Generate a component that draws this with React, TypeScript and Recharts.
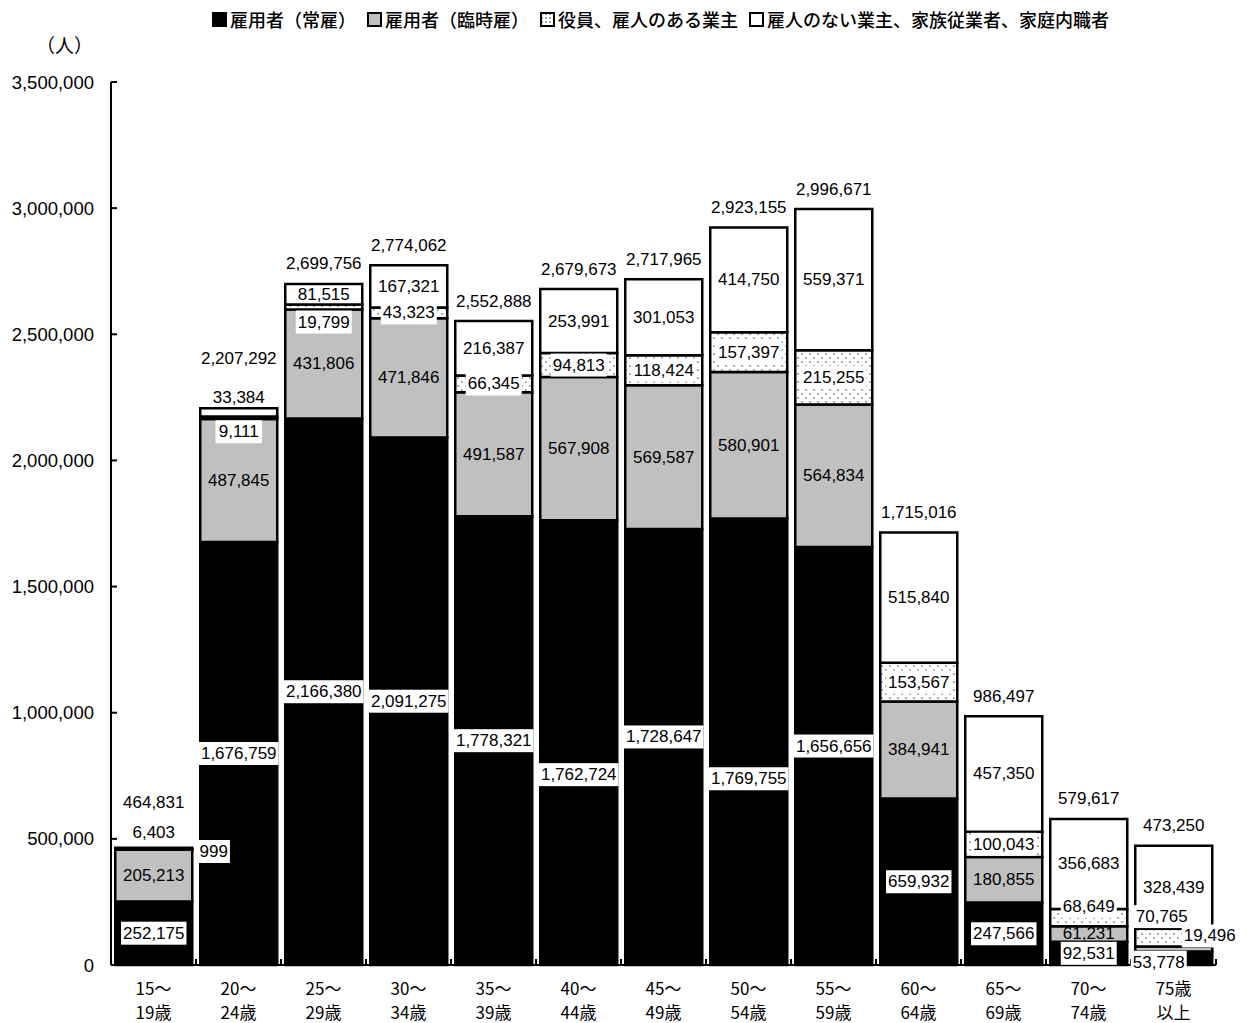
import { BarChart, Bar, XAxis, YAxis, LabelList } from 'recharts'

// 年齢階級別 従業上の地位別 就業者数
const ageGroups = [
  '15～\n19歳', '20～\n24歳', '25～\n29歳', '30～\n34歳', '35～\n39歳',
  '40～\n44歳', '45～\n49歳', '50～\n54歳', '55～\n59歳', '60～\n64歳',
  '65～\n69歳', '70～\n74歳', '75歳\n以上',
]
const regularEmployees = [
  252175, 1676759, 2166380, 2091275, 1778321, 1762724, 1728647,
  1769755, 1656656, 659932, 247566, 92531, 53778,
]
const temporaryEmployees = [
  205213, 487845, 431806, 471846, 491587, 567908, 569587,
  580901, 564834, 384941, 180855, 61231, 19496,
]
const executivesAndEmployers = [
  999, 9111, 19799, 43323, 66345, 94813, 118424,
  157397, 215255, 153567, 100043, 68649, 70765,
]
const ownAccountAndFamily = [
  6403, 33384, 81515, 167321, 216387, 253991, 301053,
  414750, 559371, 515840, 457350, 356683, 328439,
]
const totals = [
  464831, 2207292, 2699756, 2774062, 2552888, 2679673, 2717965,
  2923155, 2996671, 1715016, 986497, 579617, 473250,
]
const yTicks = [0, 500000, 1000000, 1500000, 2000000, 2500000, 3000000, 3500000]

const legendItems = [
  { label: '雇用者（常雇）', key: 'regular' },
  { label: '雇用者（臨時雇）', key: 'temporary' },
  { label: '役員、雇人のある業主', key: 'executives' },
  { label: '雇人のない業主、家族従業者、家庭内職者', key: 'ownAccount' },
]

const data = ageGroups.map((age, i) => ({
  age,
  regular: regularEmployees[i],
  temporary: temporaryEmployees[i],
  executives: executivesAndEmployers[i],
  ownAccount: ownAccountAndFamily[i],
  total: totals[i],
}))

const W = 1247
const H = 1023
const MARGIN = { top: 82, right: 31, bottom: 0, left: 0 }
const Y_AXIS_W = 111
const PLOT_W = W - MARGIN.left - MARGIN.right - Y_AXIS_W
const BAND = PLOT_W / ageGroups.length

const NUM_FONT = "'Liberation Sans', 'Noto Sans CJK JP', sans-serif"
const JP_FONT = "'Noto Sans CJK JP', sans-serif"

// labels that sit away from the middle of their segment (dx, dy)
const NUDGE: Record<string, Record<number, [number, number]>> = {
  regular: { 5: [0, 32], 6: [0, -10], 7: [0, 37], 8: [0, -10], 12: [-15, 4] },
  temporary: { 12: [36, -13] },
  executives: { 0: [60, 2], 1: [0, 14], 2: [0, 15], 11: [0, -11], 12: [-12, -21] },
  ownAccount: { 0: [0, -16], 1: [0, -15] },
  total: { 0: [0, -25], 1: [0, -30] },
}

const fmt = (v: number) => v.toLocaleString('en-US')

function textWidth(s: string, size: number) {
  let w = 0
  for (const ch of s) w += ch === ',' ? size * 0.278 : size * 0.556
  return w
}

function segmentLabel(key: string, boxed: boolean, boxWhenMoved: boolean) {
  return (props: any) => {
    const { x, y, width, height, value, index } = props
    const nudge = NUDGE[key]?.[index]
    const [dx, dy] = nudge ?? [0, 0]
    const cx = Number(x) + Number(width) / 2 + dx
    const cy = Number(y) + Number(height) / 2 + dy
    const text = fmt(Number(value))
    const w = textWidth(text, 17)
    const showBox = boxed || (boxWhenMoved && !!nudge)
    return (
      <g>
        {showBox && <rect x={cx - w / 2 - 2} y={cy - 11.5} width={w + 4} height={23} fill="#fff" />}
        <text
          x={cx}
          y={cy}
          textAnchor="middle"
          dominantBaseline="central"
          fontFamily={NUM_FONT}
          fontSize={17}
          fill="#000"
        >
          {text}
        </text>
      </g>
    )
  }
}

function TotalLabel(props: any) {
  const { x, y, width, value, index } = props
  const [dx, dy] = NUDGE.total[index] ?? [0, 0]
  return (
    <text
      x={Number(x) + Number(width) / 2 + dx}
      y={Number(y) - 20 + dy}
      textAnchor="middle"
      dominantBaseline="central"
      fontFamily={NUM_FONT}
      fontSize={17}
      fill="#000"
    >
      {fmt(Number(value))}
    </text>
  )
}

function CountTick(props: any) {
  const { x, y, payload } = props
  return (
    <g>
      <line x1={x + 17} x2={x + 23} y1={y} y2={y} stroke="#000" strokeWidth={2} />
      <text
        x={x}
        y={y}
        textAnchor="end"
        dominantBaseline="central"
        fontFamily={NUM_FONT}
        fontSize={18.5}
        fill="#000"
      >
        {fmt(payload.value)}
      </text>
    </g>
  )
}

function AgeTick(props: any) {
  const { x, y, payload, index } = props
  const [l1, l2] = String(payload.value).split('\n')
  const half = BAND / 2
  return (
    <g>
      <line x1={x - half} x2={x - half} y1={y - 6} y2={y} stroke="#000" strokeWidth={2} />
      {index === ageGroups.length - 1 && (
        <line x1={x + half} x2={x + half} y1={y - 6} y2={y} stroke="#000" strokeWidth={2} />
      )}
      <text x={x} y={y + 22} textAnchor="middle" dominantBaseline="central" fontFamily={JP_FONT} fontSize={17} fill="#000">
        {l1}
      </text>
      <text x={x} y={y + 46} textAnchor="middle" dominantBaseline="central" fontFamily={JP_FONT} fontSize={17} fill="#000">
        {l2}
      </text>
    </g>
  )
}

function Swatch({ kind }: { kind: string }) {
  const fill =
    kind === 'regular' ? '#000' : kind === 'temporary' ? '#c0c0c0' : kind === 'executives' ? 'url(#dots-legend)' : '#fff'
  return (
    <svg width={15} height={15} style={{ marginRight: 3, flexShrink: 0 }}>
      <defs>
        <pattern id="dots-legend" width={4} height={4} patternUnits="userSpaceOnUse">
          <rect width={4} height={4} fill="#fff" />
          <circle cx={2} cy={2} r={0.8} fill="#333" />
        </pattern>
      </defs>
      <rect x={1} y={1} width={13} height={13} fill={fill} stroke="#000" strokeWidth={2} />
    </svg>
  )
}

export default function App() {
  return (
    <div style={{ position: 'absolute', left: 0, top: 0, width: W, height: H, background: '#fff' }}>
      <div
        style={{
          position: 'absolute',
          top: 7,
          left: 212,
          display: 'flex',
          whiteSpace: 'nowrap',
          fontFamily: JP_FONT,
          fontSize: 18,
          fontWeight: 500,
          lineHeight: '24px',
          color: '#000',
        }}
      >
        {legendItems.map((item) => (
          <span key={item.key} style={{ display: 'flex', alignItems: 'center', marginRight: 11 }}>
            <Swatch kind={item.key} />
            {item.label}
          </span>
        ))}
      </div>
      <div
        style={{
          position: 'absolute',
          top: 31,
          left: 36,
          fontFamily: JP_FONT,
          fontSize: 19,
          color: '#000',
        }}
      >
        （人）
      </div>
      <BarChart
        width={W}
        height={H}
        data={data}
        margin={MARGIN}
        barCategoryGap="5%"
        style={{ position: 'absolute', left: 0, top: 0 }}
      >
        <defs>
          <pattern id="dots" width={8} height={8} patternUnits="userSpaceOnUse">
            <rect width={8} height={8} fill="#fff" />
            <circle cx={2} cy={2} r={0.8} fill="#444" />
            <circle cx={6} cy={6} r={0.8} fill="#444" />
          </pattern>
        </defs>
        <XAxis
          dataKey="age"
          height={58}
          interval={0}
          axisLine={{ stroke: '#000', strokeWidth: 2 }}
          tickLine={false}
          tickSize={0}
          tickMargin={0}
          tick={<AgeTick />}
        />
        <YAxis
          width={Y_AXIS_W}
          domain={[0, 3500000]}
          ticks={yTicks}
          interval={0}
          axisLine={{ stroke: '#000', strokeWidth: 2 }}
          tickLine={false}
          tickSize={17}
          tickMargin={0}
          tick={<CountTick />}
        />
        <Bar dataKey="regular" stackId="a" fill="#000" stroke="#000" strokeWidth={2.5} isAnimationActive={false}>
          <LabelList dataKey="regular" content={segmentLabel('regular', true, true)} />
        </Bar>
        <Bar dataKey="temporary" stackId="a" fill="#c0c0c0" stroke="#000" strokeWidth={2.5} isAnimationActive={false}>
          <LabelList dataKey="temporary" content={segmentLabel('temporary', false, true)} />
        </Bar>
        <Bar dataKey="executives" stackId="a" fill="url(#dots)" stroke="#000" strokeWidth={2.5} isAnimationActive={false}>
          <LabelList dataKey="executives" content={segmentLabel('executives', true, true)} />
        </Bar>
        <Bar dataKey="ownAccount" stackId="a" fill="#fff" stroke="#000" strokeWidth={2.5} isAnimationActive={false}>
          <LabelList dataKey="ownAccount" content={segmentLabel('ownAccount', false, false)} />
          <LabelList dataKey="total" content={TotalLabel} />
        </Bar>
      </BarChart>
    </div>
  )
}
